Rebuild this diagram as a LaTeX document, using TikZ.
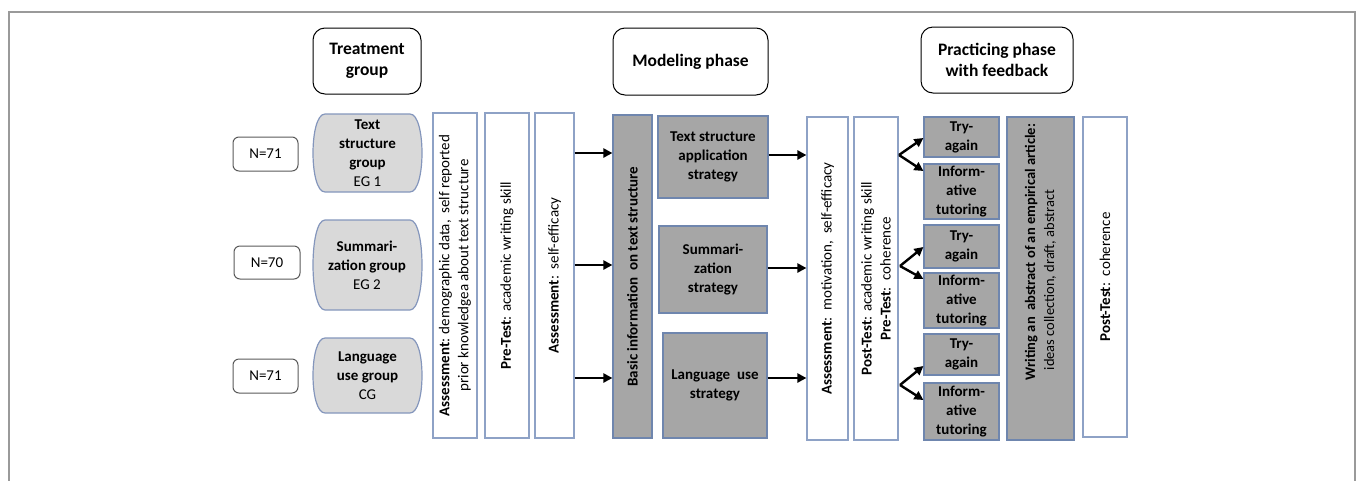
\documentclass[tikz,border=0pt]{standalone}
\usepackage{fontspec}
\setmainfont{Carlito}
\usetikzlibrary{arrows.meta}
\definecolor{wborder}{HTML}{8EA2C6}
\definecolor{gborder}{HTML}{6F86AE}
\definecolor{boxgray}{HTML}{A6A6A6}
\definecolor{shfill}{HTML}{D9D9D9}
\definecolor{shborder}{HTML}{8496BC}
\definecolor{nborder}{HTML}{595959}
\definecolor{framec}{HTML}{9A9A9A}
\newcommand\grpshape[2]{\draw[gshape] (325,#1) -- (410,#1) .. controls (426,#1) and (426,#2) .. (410,#2) -- (325,#2) .. controls (309,#2) and (309,#1) .. cycle;}
\begin{document}
\begin{tikzpicture}[x=1pt,y=-1pt,
  every node/.style={font=\fontsize{15}{19}\selectfont, inner sep=0pt, text=black},
  hdr/.style={draw=black, line width=1pt, rounded corners=12pt, align=center, font=\fontsize{17.5}{21}\selectfont\bfseries},
  nbox/.style={draw=nborder, line width=1pt, rounded corners=6pt},
  wbox/.style={draw=wborder, fill=white, line width=1.2pt, align=center},
  gbox/.style={draw=gborder, fill=boxgray, line width=1.2pt, align=center},
  gshape/.style={draw=shborder, fill=shfill, line width=1.2pt},
  gtext/.style={align=center},
  arr/.style={line width=2.4pt, -{Triangle[length=9pt,width=9pt]}},
]
\useasboundingbox (0,0) rectangle (1357,480);
\draw[framec, line width=1.5pt] (9,490) -- (9,12) -- (1355,12) -- (1355,490);

% headers
\node[hdr, minimum width=108, minimum height=66] (hd1) at (367,61) {Treatment\\group};
\node[hdr, minimum width=155, minimum height=67] (hd2) at (690.5,61.5) {Modeling phase};
\node[hdr, minimum width=152, minimum height=66] (hd3) at (997,60) {Practicing phase\\with feedback};

% N boxes
\node[nbox, minimum width=65, minimum height=34] (n1) at (265.5,154) {N=71};
\node[nbox, minimum width=66, minimum height=33] (n2) at (267,262.5) {N=70};
\node[nbox, minimum width=65, minimum height=34] (n3) at (265.5,376) {N=71};

% group shapes
\grpshape{114}{192}
\grpshape{220}{310}
\grpshape{338}{413}
\node[gtext] (g1) at (367.5,153) {\textbf{Text}\\\textbf{structure}\\\textbf{group}\\EG 1};
\node[gtext] (g2) at (367,265) {\textbf{Summari-}\\\textbf{zation group}\\EG 2};
\node[gtext] (g3) at (367.5,375.5) {\textbf{Language}\\\textbf{use group}\\CG};

% white vertical boxes
\node[wbox, rotate=90, minimum width=325, minimum height=44] (as1) at (455,275.5)
  {\textbf{Assessment}: demographic data,\ \ self reported\\prior knowledgea about text structure};
\node[wbox, rotate=90, minimum width=325, minimum height=44] (pre) at (507,275.5)
  {\textbf{Pre-Test}: academic writing skill};
\node[wbox, rotate=90, minimum width=325, minimum height=39] (as2) at (554.5,275.5)
  {\textbf{Assessment}:\ \ self-efficacy};

% modeling phase
\node[gbox, rotate=90, minimum width=323, minimum height=39] (basic) at (632.5,276.5)
  {\textbf{Basic information\ \ on text structure}};
\node[gbox, minimum width=110, minimum height=82] (s1) at (713,157)
  {\textbf{Text structure}\\\textbf{application}\\\textbf{strategy}};
\node[gbox, minimum width=108, minimum height=87] (s2) at (713,269.5)
  {\textbf{Summari-}\\\textbf{zation}\\\textbf{strategy}};
\node[gbox, minimum width=104, minimum height=105] (s3) at (715,385.5)
  {\textbf{Language\ \ use}\\\textbf{strategy}};

\node[wbox, rotate=90, minimum width=323, minimum height=41] (mot) at (827.5,278.5)
  {\textbf{Assessment}:\ \ motivation,\ \ self-efficacy};
\node[wbox, rotate=90, minimum width=323, minimum height=44] (post) at (876,278.5)
  {\textbf{Post-Test}: academic writing skill\\\textbf{Pre-Test}:\ \ coherence};

% practicing phase
\node[gbox, minimum width=75, minimum height=40] (try1) at (961.5,137) {\textbf{Try-}\\\textbf{again}};
\node[gbox, minimum width=75, minimum height=55] (inf1) at (961.5,191.5) {\textbf{Inform-}\\\textbf{ative}\\\textbf{tutoring}};
\node[gbox, minimum width=75, minimum height=43] (try2) at (961.5,246.5) {\textbf{Try-}\\\textbf{again}};
\node[gbox, minimum width=75, minimum height=55] (inf2) at (961.5,300.5) {\textbf{Inform-}\\\textbf{ative}\\\textbf{tutoring}};
\node[gbox, minimum width=75, minimum height=41] (try3) at (961.5,354.5) {\textbf{Try-}\\\textbf{again}};
\node[gbox, minimum width=75, minimum height=57] (inf3) at (961.5,411.5) {\textbf{Inform-}\\\textbf{ative}\\\textbf{tutoring}};

\node[gbox, rotate=90, minimum width=323, minimum height=67] (write) at (1040.5,278.5) {};
\node[align=left, rotate=90, font=\fontsize{14.5}{19}\selectfont] (writet) at (1040.5,252)
  {\textbf{Writing an\ \ abstract of an empirical article:}\\\ \ \ ideas collection, draft, abstract};
\node[wbox, rotate=90, minimum width=320, minimum height=44] (post2) at (1105,277)
  {\textbf{Post-Test}:\ \ coherence};

% arrows into modeling phase
\draw[arr] (as2.south |- g1) -- (basic.north |- g1);
\draw[arr] (as2.south |- g2) -- (basic.north |- g2);
\draw[arr] (as2.south |- 0,378) -- (basic.north |- 0,378);
% arrows out of strategies
\draw[arr] (s1.east |- 0,155) -- (mot.north |- 0,155);
\draw[arr] (s2.east |- 0,268) -- (mot.north |- 0,268);
\draw[arr] (s3.east |- 0,378) -- (mot.north |- 0,378);

% branching
\coordinate (v1) at (899,155);
\coordinate (v2) at (900,266);
\coordinate (v3) at (900,385);
\draw[arr] (v1) -- (try1.west |- 0,138);
\draw[arr] (v1) -- (inf1.west |- 0,171);
\draw[arr] (v2) -- (try2.west |- 0,247);
\draw[arr] (v2) -- (inf2.west |- 0,279);
\draw[arr] (v3) -- (try3.west |- 0,366);
\draw[arr] (v3) -- (inf3.west |- 0,400);
\end{tikzpicture}
\end{document}
